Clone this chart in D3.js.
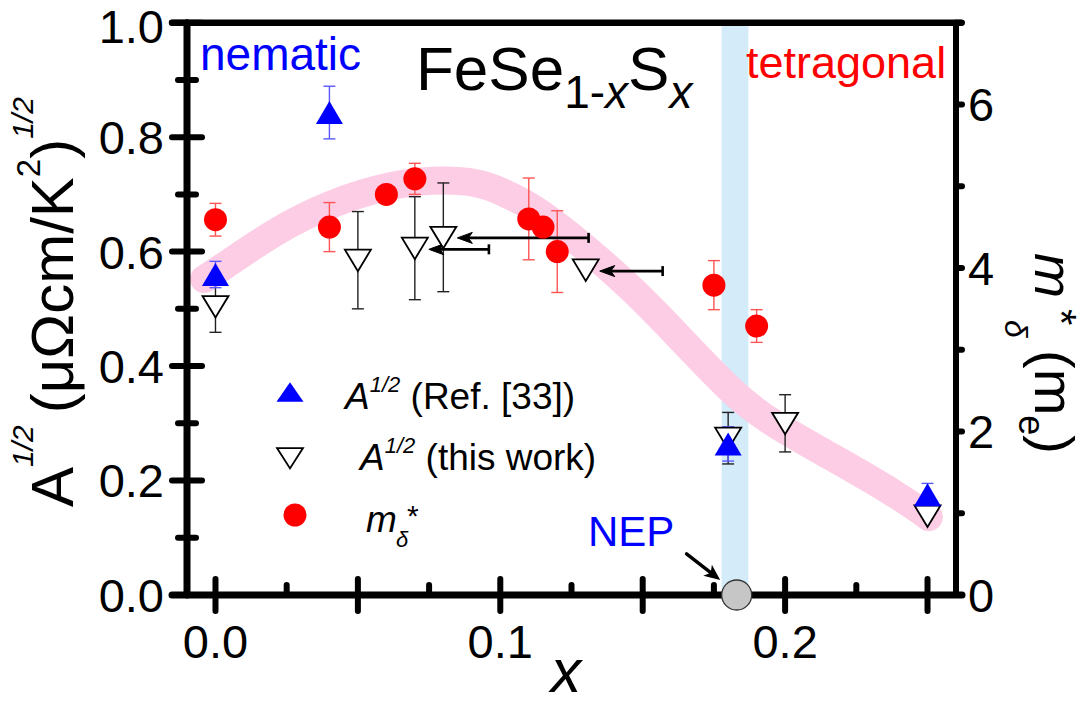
<!DOCTYPE html>
<html><head><meta charset="utf-8">
<script src="https://cdn.jsdelivr.net/npm/d3@7"></script>
<style>
body{margin:0;background:#fff}
svg{display:block}
text{font-family:"Liberation Sans",Arial,Helvetica,sans-serif}
</style>
</head><body>
<svg id="chart" width="1089" height="704"></svg>
<script>
// FeSe1-xSx: Fermi-liquid coefficient A^1/2 and effective mass m*_delta vs. sulfur content x

// A^1/2 from Ref. [33]
const refX   = [0, 0.04, 0.18, 0.25];
const refA   = [0.560, 0.843, 0.264, 0.175];
const refErr = [0.023, 0.046, 0.030, 0.020];

// A^1/2 from this work
const workX   = [0, 0.05, 0.07, 0.08, 0.13, 0.18, 0.20, 0.25];
const workA   = [0.504, 0.585, 0.606, 0.625, 0.568, 0.274, 0.300, 0.138];
const workErr = [0.045, 0.085, 0.090, 0.095, 0, 0.045, 0.050, 0];

// horizontal arrows on three samples (start x, level, far end x)
const arrowX   = [0.07, 0.08, 0.13];
const arrowA   = [0.604, 0.624, 0.566];
const arrowEnd = [0.096, 0.131, 0.157];

// m*_delta (right axis, units of m_e)
const massX   = [0, 0.04, 0.06, 0.07, 0.11, 0.115, 0.12, 0.175, 0.19];
const massM   = [4.59, 4.50, 4.90, 5.09, 4.60, 4.50, 4.20, 3.79, 3.29];
const massErr = [0.20, 0.30, 0, 0.19, 0.50, 0, 0.50, 0.30, 0.20];

// guide to the eye
const guideX = [-0.004, -0.004, 0.0005, 0.023, 0.0405, 0.058, 0.0766, 0.093, 0.100, 0.1106, 0.1235, 0.1467, 0.164, 0.180, 0.1936, 0.217, 0.2405, 0.2505, 0.2505];
const guideA = [0.552, 0.552, 0.566, 0.643, 0.684, 0.713, 0.727, 0.721, 0.706, 0.681, 0.634, 0.535, 0.444, 0.360, 0.304, 0.240, 0.172, 0.136, 0.136];

// nematic end point and its band
const nepX = 0.183;
const bandX = [0.1777, 0.1871];

// axes
const xDomain = [-0.01, 0.26];
const yDomain = [0, 1];
const y2Domain = [0, 7];
const xMajor = [0, 0.05, 0.1, 0.15, 0.2, 0.25];
const xMinor = [0.025, 0.075, 0.125, 0.175, 0.225];
const xLabels = [0, 0.1, 0.2];
const yMajor = [0, 0.2, 0.4, 0.6, 0.8, 1.0];
const yMinor = [0.1, 0.3, 0.5, 0.7, 0.9];
const y2Major = [0, 2, 4, 6];
const y2Minor = [1, 3, 5, 7];

const svg = d3.select("#chart");
const x = d3.scaleLinear().domain(xDomain).range([187, 956]);
const y = d3.scaleLinear().domain(yDomain).range([595, 22.7]);
const y2 = d3.scaleLinear().domain(y2Domain).range([595, 22.7]);

const BLUE = "#0000ff", RED = "#ff0000";

// NEP band
svg.append("rect")
  .attr("x", x(bandX[0])).attr("y", y(1))
  .attr("width", x(bandX[1]) - x(bandX[0]))
  .attr("height", y(0) - y(1))
  .attr("fill", "#d4ebfa");

// pink guide curve
svg.append("path")
  .datum(d3.zip(guideX, guideA))
  .attr("d", d3.line().x(d => x(d[0])).y(d => y(d[1])).curve(d3.curveBasis))
  .attr("fill", "none").attr("stroke", "#fccde4")
  .attr("stroke-width", 28).attr("stroke-linecap", "round").attr("stroke-linejoin", "round");

// error bars
function errBars(xs, vs, es, sc, color, w) {
  const g = svg.append("g").attr("stroke", color).attr("stroke-width", w).attr("fill", "none");
  xs.forEach((xv, i) => {
    if (!es[i]) return;
    const cx = x(xv), yt = sc(vs[i] + es[i]), yb = sc(vs[i] - es[i]);
    g.append("line").attr("x1", cx).attr("x2", cx).attr("y1", yt).attr("y2", yb);
    g.append("line").attr("x1", cx - 6).attr("x2", cx + 6).attr("y1", yt).attr("y2", yt);
    g.append("line").attr("x1", cx - 6).attr("x2", cx + 6).attr("y1", yb).attr("y2", yb);
  });
}
errBars(workX, workA, workErr, y, "#222", 1.4);
errBars(refX, refA, refErr, y, "#5a5aff", 1.4);
errBars(massX, massM, massErr, y2, "#ff5555", 1.4);

// horizontal arrows
const arrowG = svg.append("g");
arrowX.forEach((xv, i) => {
  const x0 = x(xv) + 14, x1 = x(arrowEnd[i]), yy = y(arrowA[i]);
  arrowG.append("line").attr("x1", x0 + 6).attr("x2", x1).attr("y1", yy).attr("y2", yy)
    .attr("stroke", "#000").attr("stroke-width", 2.6);
  arrowG.append("line").attr("x1", x1).attr("x2", x1).attr("y1", yy - 5).attr("y2", yy + 5)
    .attr("stroke", "#000").attr("stroke-width", 2.6);
  arrowG.append("path")
    .attr("d", `M${x0},${yy} L${x0 + 15},${yy - 5.5} L${x0 + 11},${yy} L${x0 + 15},${yy + 5.5} Z`)
    .attr("fill", "#000").attr("stroke", "#000").attr("stroke-width", 1);
});

// marker shapes
const upTri = "M0,-11.5 L13.5,11.5 L-13.5,11.5 Z";
const downTri = "M-13,-10.5 L13,-10.5 L0,11 Z";

svg.append("g").selectAll("path").data(d3.zip(workX, workA)).join("path")
  .attr("transform", d => `translate(${x(d[0])},${y(d[1])})`)
  .attr("d", downTri).attr("fill", "#fff").attr("stroke", "#000").attr("stroke-width", 1.8);

svg.append("g").selectAll("path").data(d3.zip(refX, refA)).join("path")
  .attr("transform", d => `translate(${x(d[0])},${y(d[1])})`)
  .attr("d", upTri).attr("fill", BLUE);

svg.append("g").selectAll("circle").data(d3.zip(massX, massM)).join("circle")
  .attr("cx", d => x(d[0])).attr("cy", d => y2(d[1])).attr("r", 11.5).attr("fill", RED);

// axes frame
const axG = svg.append("g").attr("stroke", "#000").attr("stroke-linecap", "round").attr("fill", "none");
axG.append("line").attr("x1", x.range()[0] - 15).attr("x2", x.range()[1] + 5).attr("y1", y(1)).attr("y2", y(1)).attr("stroke-width", 6.5);
axG.append("line").attr("x1", x.range()[0] - 15).attr("x2", x.range()[1] + 6).attr("y1", y(0)).attr("y2", y(0)).attr("stroke-width", 7);
axG.append("line").attr("x1", x.range()[0]).attr("x2", x.range()[0]).attr("y1", y(1)).attr("y2", y(0)).attr("stroke-width", 7);
axG.append("line").attr("x1", x.range()[1]).attr("x2", x.range()[1]).attr("y1", y(1)).attr("y2", y(0)).attr("stroke-width", 6);

// left ticks (crossing)
yMajor.forEach(v => axG.append("line").attr("x1", x.range()[0] - 15).attr("x2", x.range()[0] + 15)
  .attr("y1", y(v)).attr("y2", y(v)).attr("stroke-width", 6));
yMinor.forEach(v => axG.append("line").attr("x1", x.range()[0] - 9).attr("x2", x.range()[0] + 9)
  .attr("y1", y(v)).attr("y2", y(v)).attr("stroke-width", 6));
// bottom ticks
xMajor.forEach(v => axG.append("line").attr("x1", x(v)).attr("x2", x(v))
  .attr("y1", y(0) - 16).attr("y2", y(0) + 16).attr("stroke-width", 6));
xMinor.forEach(v => axG.append("line").attr("x1", x(v)).attr("x2", x(v))
  .attr("y1", y(0) - 10).attr("y2", y(0)).attr("stroke-width", 6));
// right ticks (outward)
y2Major.concat(y2Minor).forEach(v => axG.append("line").attr("x1", x.range()[1]).attr("x2", x.range()[1] + 6)
  .attr("y1", y2(v)).attr("y2", y2(v)).attr("stroke-width", 6));

// tick labels (top label kept just inside the page)
const fmt1 = d3.format(".1f");
svg.append("g").selectAll("text").data(yMajor).join("text")
  .attr("x", 164).attr("y", d => Math.max(y(d), 25.6)).attr("dy", "0.36em")
  .attr("text-anchor", "end").attr("font-size", 47).text(fmt1);
svg.append("g").selectAll("text").data(xLabels).join("text")
  .attr("x", d => x(d)).attr("y", 658)
  .attr("text-anchor", "middle").attr("font-size", 47).text(fmt1);
svg.append("g").selectAll("text").data(y2Major).join("text")
  .attr("x", 968).attr("y", d => y2(d)).attr("dy", "0.36em")
  .attr("font-size", 47).text(d => d);

// x axis title
svg.append("text").attr("x", 566).attr("y", 692).attr("text-anchor", "middle")
  .attr("font-size", 61).attr("font-style", "italic").text("x");

// left axis title
const lt = svg.append("text").attr("transform", "translate(73,507) rotate(-90)").attr("font-size", 60);
lt.append("tspan").text("A");
lt.append("tspan").attr("font-size", 30).attr("font-style", "italic").attr("dy", -40).text("1/2");
lt.append("tspan").attr("dy", 40).text("\u2009(\u03bc\u03a9cm/K");
lt.append("tspan").attr("font-size", 33).attr("dy", -33).text("2");
lt.append("tspan").attr("dy", 33).text(")");
lt.append("tspan").attr("font-size", 30).attr("font-style", "italic").attr("dy", -40).text("1/2");

// right axis title
const rt = svg.append("g").attr("transform", "translate(1035,253) rotate(90)");
rt.append("text").attr("x", 0).attr("y", 0).attr("font-size", 54).attr("font-style", "italic").text("m");
rt.append("text").attr("x", 56).attr("y", -12).attr("font-size", 42).text("*");
rt.append("text").attr("x", 67).attr("y", 30).attr("font-size", 32).attr("font-style", "italic")
  .attr("font-family", "'Liberation Serif','Times New Roman',serif").text("\u03b4");
const rt2 = rt.append("text").attr("x", 97).attr("y", 0).attr("font-size", 56);
rt2.append("tspan").text("(m");
rt2.append("tspan").attr("font-size", 36).attr("dy", 16).text("e");
rt2.append("tspan").attr("dy", -16).text(")");

// annotations
svg.append("text").attr("x", 200).attr("y", 70).attr("font-size", 46).attr("fill", BLUE).text("nematic");
svg.append("text").attr("x", 746).attr("y", 78).attr("font-size", 45).attr("fill", RED).text("tetragonal");
const ft = svg.append("text").attr("x", 416).attr("y", 90).attr("font-size", 62);
ft.append("tspan").text("FeSe");
ft.append("tspan").attr("font-size", 46).attr("dy", 18).text("1-");
ft.append("tspan").attr("font-size", 46).attr("font-style", "italic").text("x");
ft.append("tspan").attr("dy", -18).text("S");
ft.append("tspan").attr("font-size", 46).attr("font-style", "italic").attr("dy", 18).text("x");

svg.append("text").attr("x", 588).attr("y", 546).attr("font-size", 42).attr("fill", BLUE).text("NEP");

// NEP arrow and marker
const ax0 = [0.1654, 0.072], ax1 = [0.1772, 0.026];
{
  const X0 = x(ax0[0]), Y0 = y(ax0[1]), X1 = x(ax1[0]), Y1 = y(ax1[1]);
  const ang = Math.atan2(Y1 - Y0, X1 - X0);
  svg.append("line").attr("x1", X0).attr("y1", Y0)
    .attr("x2", X1 - 10 * Math.cos(ang)).attr("y2", Y1 - 10 * Math.sin(ang))
    .attr("stroke", "#000").attr("stroke-width", 3.4).attr("stroke-linecap", "round");
  svg.append("path")
    .attr("d", "M0,0 L-16,-7 L-12,0 L-16,7 Z")
    .attr("transform", `translate(${X1},${Y1}) rotate(${ang * 180 / Math.PI})`)
    .attr("fill", "#000");
}
svg.append("circle").attr("cx", x(nepX)).attr("cy", y(0)).attr("r", 15)
  .attr("fill", "#c6c6c6").attr("stroke", "#333").attr("stroke-width", 1.3);

// legend
const lg = svg.append("g");
lg.append("path").attr("d", upTri).attr("transform", "translate(290,392) scale(1,0.85)").attr("fill", BLUE);
lg.append("path").attr("d", downTri).attr("transform", "translate(290,458) scale(1,0.95)")
  .attr("fill", "#fff").attr("stroke", "#000").attr("stroke-width", 1.8);
lg.append("circle").attr("cx", 295).attr("cy", 515).attr("r", 11.5).attr("fill", RED);

function legendA(xp, yp, rest) {
  const t = lg.append("text").attr("x", xp).attr("y", yp).attr("font-size", 37);
  t.append("tspan").attr("font-style", "italic").text("A");
  t.append("tspan").attr("font-size", 22).attr("font-style", "italic").attr("dy", -17).text("1/2");
  t.append("tspan").attr("dy", 17).text(rest);
}
legendA(345, 409, " (Ref. [33])");
legendA(360, 470, " (this work)");
lg.append("text").attr("x", 366).attr("y", 532).attr("font-size", 37).attr("font-style", "italic").text("m");
lg.append("text").attr("x", 396).attr("y", 547).attr("font-size", 22).attr("font-style", "italic")
  .attr("font-family", "'Liberation Serif','Times New Roman',serif").text("\u03b4");
lg.append("text").attr("x", 407).attr("y", 526).attr("font-size", 30).text("*");
</script>
</body></html>
